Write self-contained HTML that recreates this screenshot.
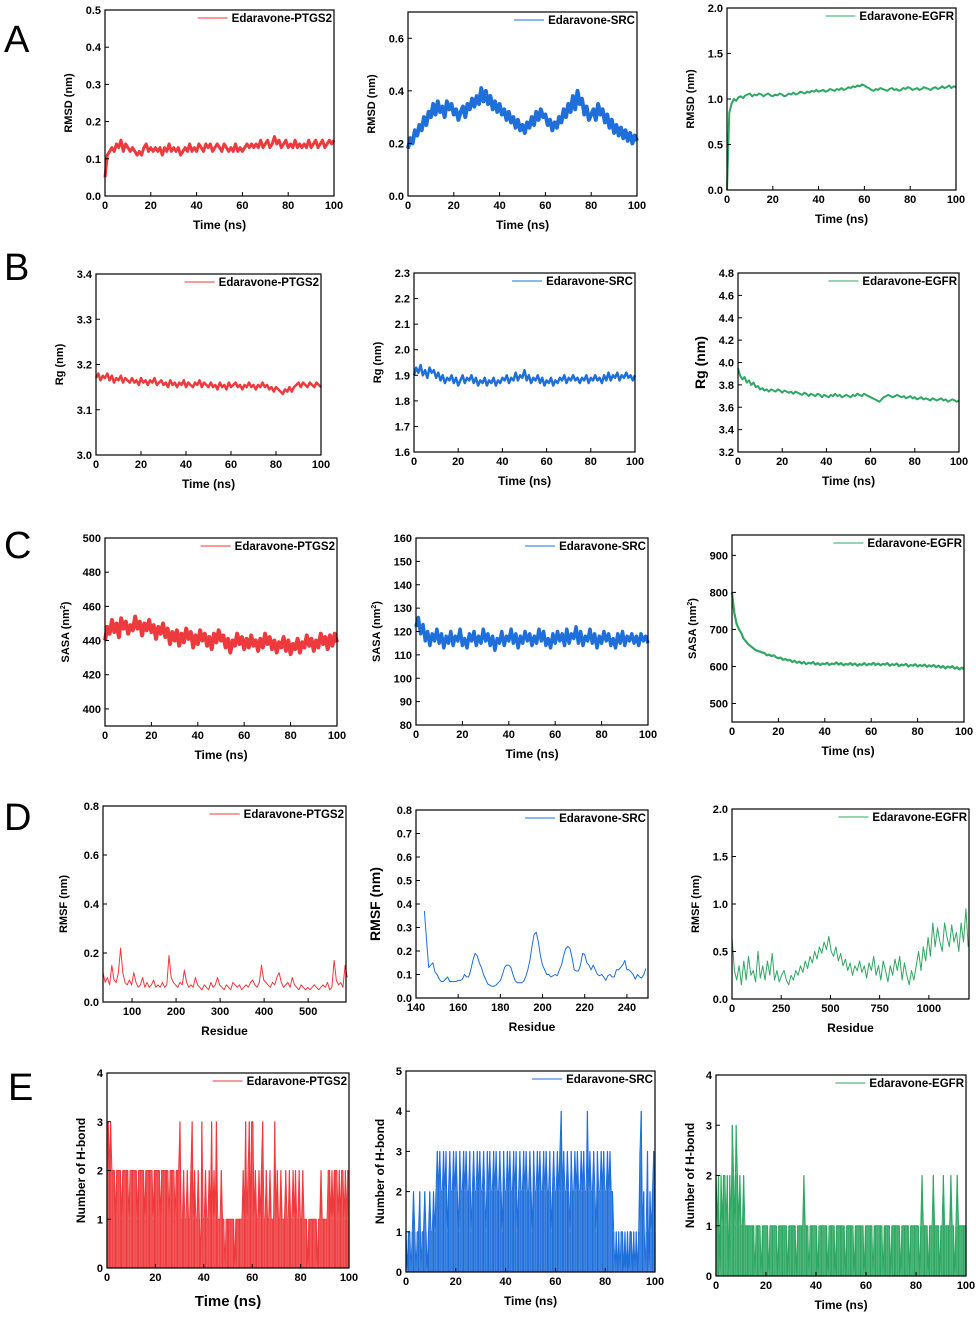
<!DOCTYPE html>
<html><head><meta charset="utf-8"><style>
html,body{margin:0;padding:0;background:#fff;}
svg{display:block;font-family:"Liberation Sans",Arial,sans-serif;}
.lt{font-size:38px;}
.tk{font-size:11px;font-weight:bold;}
.ax{font-weight:bold;}
.lg{font-size:11.5px;font-weight:bold;}
</style></head><body>
<svg id="fig" width="976" height="1318" viewBox="0 0 976 1318">
<text class="lt" x="4" y="52">A</text>
<text class="lt" x="4" y="280">B</text>
<text class="lt" x="4" y="558">C</text>
<text class="lt" x="4" y="830">D</text>
<text class="lt" x="8" y="1100">E</text>
</svg>
<script>
const a1Rmsd=[0.05,0.11,0.12,0.13,0.12,0.14,0.13,0.15,0.12,0.14,0.13,0.12,0.13,0.12,0.11,0.12,0.11,0.13,0.14,0.12,0.13,0.12,0.13,0.12,0.13,0.11,0.13,0.12,0.14,0.12,0.13,0.12,0.13,0.11,0.12,0.13,0.12,0.14,0.12,0.13,0.12,0.14,0.13,0.12,0.14,0.13,0.14,0.12,0.13,0.14,0.13,0.12,0.14,0.13,0.12,0.13,0.12,0.14,0.12,0.13,0.12,0.13,0.14,0.13,0.14,0.13,0.14,0.13,0.15,0.13,0.14,0.15,0.13,0.14,0.16,0.14,0.15,0.13,0.14,0.15,0.13,0.14,0.13,0.15,0.13,0.14,0.13,0.14,0.13,0.15,0.13,0.14,0.15,0.13,0.14,0.15,0.13,0.14,0.15,0.14,0.15];
const a2Rmsd=[0.18,0.22,0.20,0.25,0.23,0.27,0.25,0.30,0.27,0.32,0.30,0.35,0.31,0.36,0.32,0.34,0.30,0.36,0.33,0.35,0.31,0.33,0.29,0.32,0.34,0.30,0.35,0.33,0.37,0.34,0.38,0.35,0.41,0.36,0.40,0.35,0.38,0.33,0.36,0.32,0.35,0.31,0.33,0.29,0.32,0.28,0.30,0.26,0.29,0.25,0.27,0.24,0.28,0.26,0.30,0.27,0.32,0.29,0.33,0.30,0.31,0.27,0.29,0.25,0.28,0.26,0.30,0.28,0.33,0.30,0.35,0.32,0.38,0.33,0.40,0.35,0.37,0.31,0.34,0.29,0.31,0.33,0.29,0.35,0.31,0.33,0.28,0.31,0.26,0.29,0.24,0.27,0.23,0.26,0.22,0.25,0.21,0.24,0.20,0.23,0.21];
const a3Rmsd=[0.0,0.85,0.95,1.0,0.98,1.02,1.03,1.01,1.04,1.05,1.06,1.03,1.05,1.04,1.06,1.05,1.03,1.05,1.06,1.04,1.03,1.05,1.04,1.06,1.05,1.03,1.04,1.06,1.05,1.07,1.05,1.06,1.08,1.07,1.06,1.08,1.07,1.09,1.08,1.10,1.08,1.09,1.10,1.08,1.09,1.11,1.10,1.09,1.11,1.10,1.12,1.10,1.11,1.13,1.12,1.14,1.13,1.15,1.14,1.16,1.15,1.13,1.12,1.10,1.09,1.11,1.10,1.12,1.11,1.10,1.09,1.11,1.12,1.10,1.11,1.09,1.10,1.12,1.11,1.13,1.12,1.10,1.11,1.12,1.10,1.11,1.13,1.12,1.11,1.10,1.12,1.13,1.11,1.12,1.14,1.12,1.13,1.15,1.12,1.14,1.13];
const b1Rg=[3.17,3.18,3.165,3.175,3.17,3.18,3.165,3.175,3.16,3.17,3.165,3.175,3.16,3.17,3.165,3.16,3.17,3.16,3.165,3.155,3.17,3.16,3.165,3.155,3.165,3.16,3.17,3.155,3.16,3.165,3.155,3.16,3.15,3.165,3.155,3.16,3.15,3.16,3.155,3.165,3.15,3.16,3.155,3.15,3.16,3.155,3.165,3.15,3.16,3.155,3.15,3.16,3.15,3.155,3.145,3.16,3.15,3.155,3.145,3.16,3.15,3.155,3.16,3.15,3.155,3.145,3.155,3.15,3.16,3.15,3.155,3.145,3.155,3.15,3.16,3.15,3.155,3.145,3.15,3.14,3.15,3.145,3.14,3.135,3.145,3.14,3.15,3.14,3.15,3.155,3.16,3.15,3.16,3.155,3.15,3.16,3.155,3.15,3.16,3.155,3.15];
const b2Rg=[1.90,1.93,1.91,1.94,1.90,1.92,1.89,1.93,1.91,1.92,1.89,1.91,1.88,1.90,1.87,1.89,1.88,1.90,1.87,1.89,1.86,1.88,1.90,1.87,1.89,1.88,1.90,1.87,1.89,1.86,1.88,1.87,1.89,1.86,1.88,1.87,1.89,1.86,1.88,1.87,1.89,1.88,1.90,1.87,1.89,1.88,1.91,1.88,1.90,1.89,1.92,1.88,1.90,1.87,1.89,1.88,1.90,1.87,1.89,1.86,1.88,1.87,1.89,1.86,1.88,1.87,1.89,1.88,1.90,1.87,1.89,1.88,1.90,1.88,1.89,1.87,1.89,1.88,1.90,1.87,1.89,1.88,1.90,1.88,1.89,1.87,1.90,1.88,1.91,1.88,1.90,1.89,1.91,1.88,1.90,1.89,1.91,1.89,1.90,1.88,1.90];
const b3Rg=[3.95,3.88,3.85,3.87,3.82,3.84,3.80,3.82,3.78,3.79,3.76,3.77,3.75,3.76,3.74,3.76,3.75,3.74,3.76,3.75,3.73,3.75,3.74,3.73,3.74,3.72,3.74,3.73,3.72,3.71,3.73,3.72,3.70,3.72,3.71,3.70,3.72,3.71,3.69,3.71,3.70,3.69,3.71,3.70,3.72,3.70,3.71,3.69,3.70,3.71,3.70,3.69,3.71,3.70,3.72,3.71,3.70,3.72,3.71,3.70,3.69,3.68,3.67,3.66,3.65,3.67,3.69,3.70,3.71,3.70,3.69,3.70,3.71,3.70,3.69,3.70,3.68,3.69,3.70,3.68,3.69,3.67,3.68,3.69,3.67,3.68,3.67,3.66,3.68,3.67,3.66,3.67,3.68,3.66,3.67,3.65,3.66,3.67,3.66,3.65,3.66];
const c1Sasa=[440,448,444,452,445,450,442,453,447,451,444,449,446,454,447,451,443,450,446,452,445,449,441,448,444,450,442,447,438,445,440,446,437,444,439,447,441,445,436,443,438,446,440,444,437,442,435,444,439,446,440,443,436,441,433,440,437,444,438,442,435,441,436,443,437,440,434,441,436,444,438,442,435,440,433,439,436,442,434,440,432,438,435,441,433,439,436,443,437,441,434,440,436,444,438,442,435,443,437,444,439];
const c2Sasa=[122,126,119,123,116,120,114,119,116,121,115,119,113,118,115,120,114,118,116,121,114,117,113,119,116,120,114,118,115,121,116,119,114,118,112,117,115,120,114,118,116,121,115,119,113,118,115,120,116,119,114,118,115,121,116,120,114,117,113,119,115,120,116,119,114,121,115,119,117,122,115,120,114,118,116,121,115,119,113,118,115,120,116,119,114,117,113,119,115,120,114,118,116,119,115,118,114,119,116,118,115];
const c3Sasa=[800,745,715,700,690,675,668,660,655,650,645,642,640,638,636,630,632,628,630,625,622,624,618,620,616,618,612,615,610,613,608,612,606,610,608,612,605,609,604,608,606,610,604,608,606,611,605,609,603,607,605,609,604,608,602,606,604,609,603,607,605,610,604,608,603,607,605,609,602,606,604,608,601,605,603,607,600,604,602,606,600,604,601,605,599,603,600,604,598,602,597,601,595,600,597,601,594,598,592,597,593];
const d1Rmsf=[0.12,0.08,0.10,0.07,0.15,0.09,0.08,0.12,0.22,0.12,0.08,0.07,0.09,0.07,0.12,0.08,0.06,0.07,0.10,0.06,0.08,0.06,0.07,0.09,0.06,0.07,0.06,0.08,0.06,0.07,0.19,0.10,0.08,0.07,0.06,0.08,0.07,0.13,0.08,0.06,0.07,0.06,0.10,0.07,0.06,0.05,0.07,0.06,0.05,0.08,0.06,0.07,0.10,0.07,0.06,0.05,0.07,0.06,0.05,0.08,0.07,0.06,0.07,0.05,0.06,0.07,0.06,0.08,0.09,0.07,0.06,0.08,0.15,0.09,0.08,0.07,0.06,0.08,0.07,0.10,0.12,0.08,0.06,0.07,0.08,0.06,0.10,0.07,0.06,0.05,0.07,0.06,0.05,0.06,0.05,0.06,0.07,0.06,0.05,0.06,0.07,0.06,0.08,0.05,0.06,0.17,0.09,0.07,0.08,0.06,0.15,0.10];
const d2Residue=[144,145,146,147,148,149,150,151,152,153,154,155,156,157,158,159,160,161,162,163,164,165,166,167,168,169,170,171,172,173,174,175,176,177,178,179,180,181,182,183,184,185,186,187,188,189,190,191,192,193,194,195,196,197,198,199,200,201,202,203,204,205,206,207,208,209,210,211,212,213,214,215,216,217,218,219,220,221,222,223,224,225,226,227,228,229,230,231,232,233,234,235,236,237,238,239,240,241,242,243,244,245,246,247,248,249];
const d2Rmsf=[0.37,0.25,0.13,0.14,0.15,0.11,0.10,0.08,0.07,0.07,0.08,0.09,0.07,0.07,0.07,0.07,0.075,0.075,0.08,0.10,0.09,0.09,0.12,0.16,0.19,0.18,0.15,0.13,0.10,0.08,0.06,0.055,0.05,0.05,0.055,0.065,0.075,0.10,0.13,0.14,0.14,0.13,0.10,0.075,0.065,0.065,0.065,0.07,0.09,0.12,0.16,0.22,0.27,0.28,0.24,0.18,0.14,0.12,0.10,0.10,0.09,0.095,0.10,0.095,0.12,0.14,0.18,0.21,0.22,0.21,0.17,0.12,0.115,0.115,0.14,0.19,0.185,0.15,0.14,0.12,0.14,0.12,0.10,0.095,0.10,0.09,0.075,0.095,0.10,0.09,0.09,0.12,0.12,0.13,0.14,0.16,0.12,0.12,0.11,0.10,0.08,0.10,0.09,0.085,0.10,0.125];
const d3Rmsf=[0.65,0.30,0.20,0.35,0.15,0.40,0.20,0.45,0.25,0.30,0.18,0.50,0.22,0.35,0.20,0.40,0.25,0.48,0.20,0.30,0.18,0.25,0.30,0.20,0.15,0.25,0.20,0.30,0.25,0.35,0.28,0.40,0.32,0.45,0.38,0.50,0.42,0.55,0.48,0.60,0.52,0.66,0.50,0.45,0.55,0.40,0.48,0.35,0.42,0.30,0.38,0.25,0.35,0.30,0.40,0.28,0.35,0.22,0.38,0.30,0.45,0.25,0.35,0.20,0.40,0.30,0.18,0.35,0.25,0.42,0.30,0.45,0.20,0.38,0.25,0.15,0.30,0.20,0.35,0.50,0.30,0.55,0.40,0.65,0.45,0.80,0.55,0.75,0.60,0.50,0.80,0.65,0.55,0.78,0.60,0.70,0.50,0.80,0.60,0.95,0.55];
const e1Hbond=[3,3,2,3,2,2,2,1,2,2,2,2,1,2,2,2,2,2,1,2,2,2,2,2,2,1,2,2,2,2,2,1,2,2,2,2,2,2,1,2,2,2,2,2,1,2,2,2,2,2,2,1,2,2,2,2,1,2,2,2,3,1,1,2,1,1,2,1,1,2,3,1,2,1,1,2,1,0,3,1,1,2,1,1,2,1,3,1,2,1,3,1,1,1,2,1,1,0,1,1,1,1,1,1,1,0,1,1,1,1,1,1,2,1,3,1,2,3,1,3,3,1,2,1,1,2,1,2,3,1,1,2,1,1,2,1,1,1,3,1,2,1,1,2,1,1,1,2,1,1,2,1,1,2,1,2,1,1,2,1,1,2,1,1,1,0,1,1,1,1,1,1,1,0,1,1,2,1,1,1,1,1,2,2,1,2,1,2,2,2,1,2,1,2,2,1,2,1,2,2];
const e2Hbond=[1,0,1,1,0,1,2,1,0,1,1,2,0,1,1,2,1,0,1,2,1,1,2,1,2,3,2,3,2,2,3,2,3,1,2,3,2,2,3,2,3,2,1,3,2,2,3,2,3,2,2,3,1,2,3,2,2,3,2,3,2,2,3,2,1,3,2,3,2,2,3,2,3,2,2,3,2,1,3,2,2,3,2,3,2,2,3,2,3,1,2,3,2,2,3,2,3,2,2,3,2,1,3,2,2,3,2,3,2,2,3,2,3,2,2,3,1,2,3,2,2,3,2,3,4,2,3,2,2,3,2,1,3,2,2,3,2,3,2,2,3,2,3,2,2,4,2,3,2,2,3,2,1,3,2,2,3,2,3,2,2,3,2,3,2,2,1,0,1,0,1,0,1,1,0,1,0,1,0,1,1,0,1,0,1,0,1,3,4,1,2,0,1,3,0,2,1,2,3,1];
const e3Hbond=[2,1,2,0,2,1,2,2,1,2,0,2,1,3,2,1,3,2,1,2,1,1,2,1,1,1,1,1,1,1,1,0,1,1,1,1,0,1,1,1,1,1,0,1,1,1,1,1,1,0,1,1,1,1,1,1,1,0,1,1,1,1,1,1,0,1,1,1,1,1,2,1,1,1,0,1,1,1,1,1,1,0,1,1,1,1,1,1,1,0,1,1,1,1,1,0,1,1,1,1,1,1,1,0,1,1,1,1,1,1,0,1,1,1,1,1,1,1,0,1,1,1,1,1,1,0,1,1,1,1,1,1,1,0,1,1,1,1,1,0,1,1,1,1,1,1,1,0,1,1,1,1,1,1,0,1,1,1,1,1,1,1,0,1,2,1,1,1,1,0,1,1,1,2,1,1,1,1,0,1,1,2,1,1,1,1,1,2,1,1,0,1,2,1,1,1,1,1,1,1];
const timeTicks=[0,20,40,60,80,100];

const RED='#ee3a3d',BLUE='#1f6fdb',GREEN='#2ea862';
const NS='http://www.w3.org/2000/svg';
const svg=document.getElementById('fig');
function mk(tag,attrs,parent){const e=document.createElementNS(NS,tag);for(const k in attrs)e.setAttribute(k,attrs[k]);(parent||svg).appendChild(e);return e;}
function fmt(v,dec){return v.toFixed(dec);}

function panel(c){
  const g=mk('g',{});
  
  
  const [X0,Y0,X1,Y1]=c.box;
  const sx=v=>X0+(v-c.xmin)/(c.xmax-c.xmin)*(X1-X0);
  const sy=v=>Y1-(v-c.ymin)/(c.ymax-c.ymin)*(Y1-Y0);
  if(c.bars){
    const step=(X1-X0)/(c.y.length-1);
    c.y.forEach((v,i)=>{
      if(v<=c.ymin) return;
      const b=mk('line',{x1:sx(c.x[i]),y1:sy(c.ymin),x2:sx(c.x[i]),y2:sy(v),stroke:c.color,'stroke-width':(step*0.95).toFixed(2)},g);
      
      
    });
  }
  const pts=c.y.map((v,i)=>sx(c.x[i]).toFixed(1)+','+sy(v).toFixed(1)).join(' ');
  const pl=mk('polyline',{points:pts,fill:'none',stroke:c.color,'stroke-width':c.sw||1,'stroke-linejoin':'round'},g);
  
  
  const fr=mk('rect',{x:X0,y:Y0,width:X1-X0,height:Y1-Y0,fill:'none',stroke:'#000','stroke-width':1.2},g);
  
  
  c.xticks.forEach((t,i)=>{
    const x=sx(t);
    mk('line',{x1:x,y1:Y1,x2:x,y2:Y1-4,stroke:'#000'},g);
    const tx=mk('text',{x:x,y:Y1+13,'text-anchor':'middle',class:'tk'},g);
    tx.textContent=t;
    
    
  });
  c.yticks.forEach(t=>{
    const y=sy(t);
    mk('line',{x1:X0,y1:y,x2:X0+4,y2:y,stroke:'#000'},g);
    const tx=mk('text',{x:X0-4,y:y+4,'text-anchor':'end',class:'tk'},g);
    tx.textContent=fmt(t,c.ydec);
    
    
  });
  const xl=mk('text',{x:(X0+X1)/2,y:Y1+(c.xfs?38:33),'text-anchor':'middle',class:'ax',style:'font-size:'+(c.xfs||12)+'px'},g);
  xl.textContent=c.xlabel;
  
  
  const yx=X0-c.ylo, yy=(Y0+Y1)/2;
  const yl=mk('text',{x:yx,y:yy,'text-anchor':'middle',class:'ax',style:'font-size:'+(c.yfs||11)+'px',transform:`rotate(-90 ${yx} ${yy})`},g);
  yl.innerHTML=c.ylabel;
  
  
  const lt=mk('text',{x:X1-2,y:Y0+12,'text-anchor':'end',class:'lg'},g);
  lt.textContent=c.legend;
  
  
  const w=lt.getComputedTextLength();
  const ll=mk('line',{x1:X1-6-w-30,y1:Y0+8,x2:X1-6-w,y2:Y0+8,stroke:c.color,'stroke-width':1},g);
  
  
}
function T(arr){return arr.map((_,i)=>100*i/(arr.length-1));}
const sq='<tspan font-size="7" dy="-4">2</tspan><tspan dy="4">)</tspan>';

panel({name:'rmsd-ptgs2',box:[105,10,334,196],x:T(a1Rmsd),y:a1Rmsd,xmin:0,xmax:100,xticks:timeTicks,ymin:0,ymax:0.5,yticks:[0,0.1,0.2,0.3,0.4,0.5],ydec:1,color:RED,legend:'Edaravone-PTGS2',xlabel:'Time (ns)',ylabel:'RMSD (nm)',ylo:33,sw:3});
panel({name:'rmsd-src',box:[408,12,637,196],x:T(a2Rmsd),y:a2Rmsd,xmin:0,xmax:100,xticks:timeTicks,ymin:0,ymax:0.7,yticks:[0,0.2,0.4,0.6],ydec:1,color:BLUE,legend:'Edaravone-SRC',xlabel:'Time (ns)',ylabel:'RMSD (nm)',ylo:33,sw:4});
panel({name:'rmsd-egfr',box:[727,8,956,190],x:T(a3Rmsd),y:a3Rmsd,xmin:0,xmax:100,xticks:timeTicks,ymin:0,ymax:2,yticks:[0,0.5,1,1.5,2],ydec:1,color:GREEN,legend:'Edaravone-EGFR',xlabel:'Time (ns)',ylabel:'RMSD (nm)',ylo:33,sw:2});

panel({name:'rg-ptgs2',box:[96,274,321,455],x:T(b1Rg),y:b1Rg,xmin:0,xmax:100,xticks:timeTicks,ymin:3.0,ymax:3.4,yticks:[3.0,3.1,3.2,3.3,3.4],ydec:1,color:RED,legend:'Edaravone-PTGS2',xlabel:'Time (ns)',ylabel:'Rg (nm)',ylo:33,sw:2.5});
panel({name:'rg-src',box:[414,273,635,452],x:T(b2Rg),y:b2Rg,xmin:0,xmax:100,xticks:timeTicks,ymin:1.6,ymax:2.3,yticks:[1.6,1.7,1.8,1.9,2.0,2.1,2.2,2.3],ydec:1,color:BLUE,legend:'Edaravone-SRC',xlabel:'Time (ns)',ylabel:'Rg (nm)',ylo:33,sw:2.5});
panel({name:'rg-egfr',box:[738,273,959,452],x:T(b3Rg),y:b3Rg,xmin:0,xmax:100,xticks:timeTicks,ymin:3.2,ymax:4.8,yticks:[3.2,3.4,3.6,3.8,4.0,4.2,4.4,4.6,4.8],ydec:1,color:GREEN,legend:'Edaravone-EGFR',xlabel:'Time (ns)',ylabel:'Rg (nm)',ylo:33,yfs:14,sw:2});

panel({name:'sasa-ptgs2',box:[105,538,337,726],x:T(c1Sasa),y:c1Sasa,xmin:0,xmax:100,xticks:timeTicks,ymin:390,ymax:500,yticks:[400,420,440,460,480,500],ydec:0,color:RED,legend:'Edaravone-PTGS2',xlabel:'Time (ns)',ylabel:'SASA (nm'+sq,ylo:36,sw:4});
panel({name:'sasa-src',box:[416,538,648,725],x:T(c2Sasa),y:c2Sasa,xmin:0,xmax:100,xticks:timeTicks,ymin:80,ymax:160,yticks:[80,90,100,110,120,130,140,150,160],ydec:0,color:BLUE,legend:'Edaravone-SRC',xlabel:'Time (ns)',ylabel:'SASA (nm'+sq,ylo:36,sw:3.5});
panel({name:'sasa-egfr',box:[732,535,964,722],x:T(c3Sasa),y:c3Sasa,xmin:0,xmax:100,xticks:timeTicks,ymin:450,ymax:955,yticks:[500,600,700,800,900],ydec:0,color:GREEN,legend:'Edaravone-EGFR',xlabel:'Time (ns)',ylabel:'SASA (nm'+sq,ylo:36,sw:2.2});

panel({name:'rmsf-ptgs2',box:[103,806,346,1002],x:d1Rmsf.map((_,i)=>34+5*i),y:d1Rmsf,xmin:34,xmax:586,xticks:[100,200,300,400,500],ymin:0,ymax:0.8,yticks:[0,0.2,0.4,0.6,0.8],ydec:1,color:RED,legend:'Edaravone-PTGS2',xlabel:'Residue',ylabel:'RMSF (nm)',ylo:36,sw:1});
panel({name:'rmsf-src',box:[416,810,648,998],x:d2Residue,y:d2Rmsf,xmin:140,xmax:250,xticks:[140,160,180,200,220,240],ymin:0,ymax:0.8,yticks:[0,0.1,0.2,0.3,0.4,0.5,0.6,0.7,0.8],ydec:1,color:BLUE,legend:'Edaravone-SRC',xlabel:'Residue',ylabel:'RMSF (nm)',ylo:36,yfs:14,sw:1});
panel({name:'rmsf-egfr',box:[732,809,969,999],x:d3Rmsf.map((_,i)=>12*i),y:d3Rmsf,xmin:0,xmax:1204,xticks:[0,250,500,750,1000],ymin:0,ymax:2,yticks:[0,0.5,1,1.5,2],ydec:1,color:GREEN,legend:'Edaravone-EGFR',xlabel:'Residue',ylabel:'RMSF (nm)',ylo:33,sw:1});

panel({name:'hbond-ptgs2',box:[107,1073,349,1268],x:T(e1Hbond),y:e1Hbond,bars:true,xmin:0,xmax:100,xticks:timeTicks,ymin:0,ymax:4,yticks:[0,1,2,3,4],ydec:0,color:RED,legend:'Edaravone-PTGS2',xlabel:'Time (ns)',xfs:15,ylabel:'Number of H-bond',ylo:22,yfs:12,sw:1});
panel({name:'hbond-src',box:[406,1071,655,1272],x:T(e2Hbond),y:e2Hbond,bars:true,xmin:0,xmax:100,xticks:timeTicks,ymin:0,ymax:5,yticks:[0,1,2,3,4,5],ydec:0,color:BLUE,legend:'Edaravone-SRC',xlabel:'Time (ns)',ylabel:'Number of H-bond',ylo:22,yfs:12,sw:1});
panel({name:'hbond-egfr',box:[716,1075,966,1276],x:T(e3Hbond),y:e3Hbond,bars:true,xmin:0,xmax:100,xticks:timeTicks,ymin:0,ymax:4,yticks:[0,1,2,3,4],ydec:0,color:GREEN,legend:'Edaravone-EGFR',xlabel:'Time (ns)',ylabel:'Number of H-bond',ylo:22,yfs:12,sw:1});
</script>
</body></html>
